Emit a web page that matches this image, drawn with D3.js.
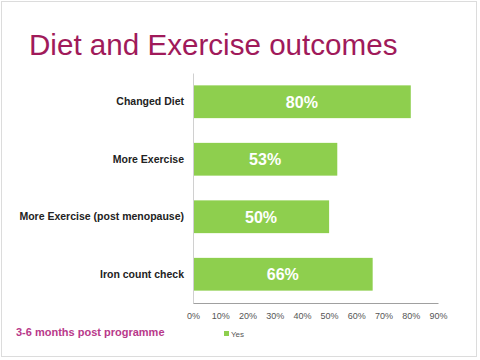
<!DOCTYPE html>
<html><head><meta charset="utf-8">
<script src="https://cdn.jsdelivr.net/npm/d3@7"></script>
<style>html,body{margin:0;padding:0;background:#fff;}svg{display:block;}</style>
</head><body>
<svg id="c" width="480" height="360"></svg>
<script>
const categories = ["Changed Diet", "More Exercise", "More Exercise (post menopause)", "Iron count check"];
const values = [80, 53, 50, 66];
const tickValues = [0, 10, 20, 30, 40, 50, 60, 70, 80, 90];
const seriesName = "Yes";

const svg = d3.select("#c");
svg.append("rect").attr("x", 1.5).attr("y", 1.5).attr("width", 475).attr("height", 355)
  .attr("fill", "#fff").attr("stroke", "#dcdcdc");

svg.append("text").attr("x", 29).attr("y", 55)
  .attr("font-family", "Liberation Sans, Arial, sans-serif").attr("font-size", 29.6)
  .attr("fill", "#a01a5a").text("Diet and Exercise outcomes");

const x = d3.scaleLinear().domain([0, 90]).range([193, 438]);
const y = d3.scaleBand().domain(categories).range([73, 303]).paddingInner(0.43).paddingOuter(0.215);

svg.selectAll("rect.bar").data(values).enter().append("rect").attr("class", "bar")
  .attr("x", x(0)).attr("y", (d, i) => y(categories[i]))
  .attr("width", d => x(d) - x(0)).attr("height", y.bandwidth())
  .attr("fill", "#8ecf4e");

svg.selectAll("text.val").data(values).enter().append("text").attr("class", "val")
  .attr("x", d => (x(0) + x(d)) / 2).attr("y", (d, i) => y(categories[i]) + y.bandwidth() / 2 + 6)
  .attr("text-anchor", "middle").attr("font-family", "Liberation Sans, Arial, sans-serif")
  .attr("font-size", 16).attr("font-weight", "bold").attr("fill", "#fff")
  .text(d => d + "%");

// y axis
const ya = svg.append("g").attr("transform", `translate(${x(0)},0)`)
  .call(d3.axisLeft(y).tickSize(0).tickPadding(9));
ya.select(".domain").attr("stroke", "#d0d0d0");
ya.selectAll("text").attr("font-family", "Liberation Sans, Arial, sans-serif")
  .attr("font-size", 10.5).attr("font-weight", "bold").attr("fill", "#222");

// x axis
const xa = svg.append("g").attr("transform", "translate(0,303)")
  .call(d3.axisBottom(x).tickValues(tickValues).tickSize(0).tickPadding(10).tickFormat(d => d + "%"));
xa.select(".domain").attr("stroke", "#a0a0a0");
xa.selectAll("text").attr("font-family", "Liberation Sans, Arial, sans-serif")
  .attr("font-size", 9).attr("fill", "#555");

// legend
svg.append("rect").attr("x", 224).attr("y", 331).attr("width", 5).attr("height", 5).attr("fill", "#8ecf4e");
svg.append("text").attr("x", 231).attr("y", 337).attr("font-family", "Liberation Sans, Arial, sans-serif")
  .attr("font-size", 8).attr("fill", "#555").text(seriesName);

// footnote
svg.append("text").attr("x", 16).attr("y", 336).attr("font-family", "Liberation Sans, Arial, sans-serif")
  .attr("font-size", 11).attr("font-weight", "bold").attr("fill", "#b8398a").text("3-6 months post programme");
</script>
</body></html>
